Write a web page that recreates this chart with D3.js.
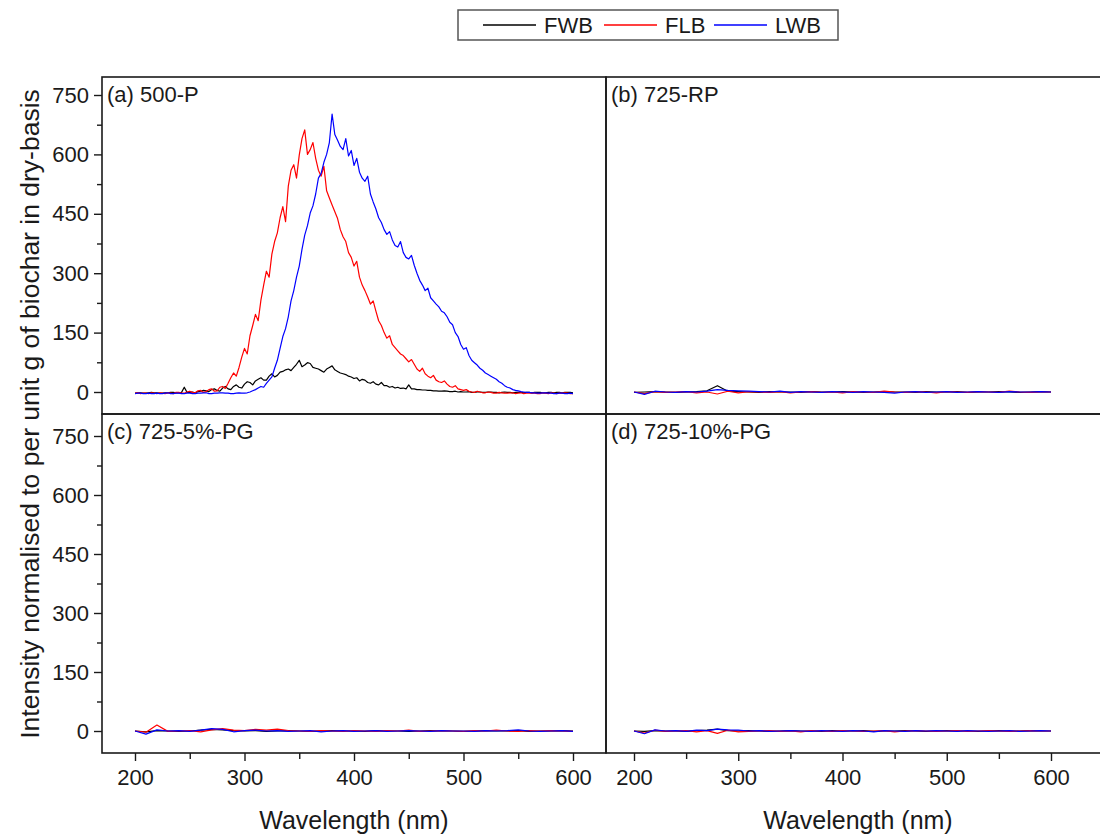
<!DOCTYPE html>
<html>
<head>
<meta charset="utf-8">
<script src="https://cdn.jsdelivr.net/npm/d3@7"></script>
<style>
  body { margin: 0; background: #fff; }
  svg { font-family: "Liberation Sans", Arial, sans-serif; }
</style>
</head>
<body>
<div id="playground"></div>
<script>
// wavelength grids (nm)
var wlFine = [200,202.5,205,207.5,210,212.5,215,217.5,220,222.5,225,227.5,230,232.5,235,237.5,240,242.5,245,247.5,
              250,252.5,255,257.5,260,262.5,265,267.5,270,272.5,275,277.5,280,282.5,285,287.5,290,292.5,295,297.5,
              300,302.5,305,307.5,310,312.5,315,317.5,320,322.5,325,327.5,330,332.5,335,337.5,340,342.5,345,347.5,
              350,352.5,355,357.5,360,362.5,365,367.5,370,372.5,375,377.5,380,382.5,385,387.5,390,392.5,395,397.5,
              400,402.5,405,407.5,410,412.5,415,417.5,420,422.5,425,427.5,430,432.5,435,437.5,440,442.5,445,447.5,
              450,452.5,455,457.5,460,462.5,465,467.5,470,472.5,475,477.5,480,482.5,485,487.5,490,492.5,495,497.5,
              500,502.5,505,507.5,510,512.5,515,517.5,520,522.5,525,527.5,530,532.5,535,537.5,540,542.5,545,547.5,
              550,552.5,555,557.5,560,562.5,565,567.5,570,572.5,575,577.5,580,582.5,585,587.5,590,592.5,595,597.5,
              600];
var wlCoarse = [200,210,220,230,240,250,260,270,280,290,
                300,310,320,330,340,350,360,370,380,390,
                400,410,420,430,440,450,460,470,480,490,
                500,510,520,530,540,550,560,570,580,590,600];

var seriesNames = ['FWB', 'FLB', 'LWB'];
var seriesColors = ['#000000', '#ff0000', '#0000ff'];
var yTicks = [0, 150, 300, 450, 600, 750];
var xTicks = [200, 300, 400, 500, 600];

// (a) 500-P, 2.5 nm steps
var fwbA = [-3,-2,-2,-3,-3,-2,-1,-2,-2,-3,-3,-2,-2,-1,-1,-2,-2,-1,12,-1,
            -1,0,-2,1,2,4,3,1,6,8,4,2,10,14,8,6,14,18,12,10,
            20,26,24,18,28,32,36,30,30,40,46,38,42,50,52,56,58,54,62,70,
            80,64,68,74,72,62,60,58,54,50,58,62,66,56,52,48,46,44,40,38,
            34,36,28,32,30,24,22,26,20,18,24,16,16,12,14,10,12,9,10,8,
            18,8,8,6,6,5,5,4,4,3,3,2,2,3,2,1,1,2,0,1,
            0,0,1,-1,-1,0,0,-1,-1,0,0,-1,-1,-2,-1,0,-1,-1,-2,-1,
            -1,-1,-2,-1,-1,-2,-1,-1,-1,-2,-2,-1,-1,-2,-1,-1,-2,-1,-1,-1,
            -2];
var flbA = [-3,-2,-4,-3,-3,-4,-2,-3,-4,-2,-3,-4,-2,-3,-4,-1,-1,-3,-3,0,
            2,-1,-2,3,4,-1,1,6,8,2,3,12,14,9,22,36,48,40,62,88,
            110,96,142,168,196,180,232,270,305,290,348,380,402,440,468,430,520,560,574,540,
            598,640,662,600,612,630,590,560,545,570,508,490,472,455,438,410,392,380,352,340,
            318,330,290,270,256,240,222,230,204,180,168,150,136,142,120,112,104,96,92,84,
            76,82,70,58,52,60,46,40,36,42,30,26,24,28,20,14,12,16,8,6,
            4,6,2,0,-1,2,0,-2,-2,0,-1,-3,-3,-1,-2,-3,-3,-2,-2,-4,
            -3,-2,-4,-3,-2,-3,-3,-4,-4,-2,-3,-4,-2,-3,-4,-3,-3,-2,-3,-4,
            -4];
var lwbA = [-4,-3,-3,-4,-4,-3,-4,-4,-3,-4,-4,-3,-2,-4,-4,-3,-3,-4,-4,-3,
            -3,-4,-4,-3,-3,-2,-2,-4,-4,-3,-3,-2,-2,-3,-3,-4,-4,-3,-2,-3,
            -3,-2,0,3,6,10,14,12,22,30,38,60,80,110,140,160,190,230,256,290,
            318,360,396,420,452,470,500,540,552,580,600,630,702,650,636,620,612,640,596,610,
            572,590,555,540,532,545,500,480,462,440,428,410,398,405,384,370,366,380,352,340,
            336,345,320,300,282,270,256,262,238,230,222,215,204,200,190,176,170,150,140,120,
            108,112,92,80,74,68,60,55,48,44,40,36,32,26,22,16,12,10,6,4,
            3,1,0,-1,-1,-2,-2,-3,-3,-2,-2,-3,-3,-4,-4,-3,-3,-4,-4,-3,
            -4];

// (b) 725-RP, 10 nm steps
var fwbB = [-1,0,1,0,-1,0,1,3,16,2, 1,0,-1,1,0,0,-1,1,0,0, 1,0,-1,0,1,0,0,-1,1,0, 0,1,-1,0,0,1,0,-1,0,1, 0];
var flbB = [0,-4,1,-1,0,1,-2,0,-5,2, -2,1,0,-1,1,-2,0,1,-1,0, -2,1,0,-1,2,0,-1,1,0,-2, 1,0,-1,1,0,-1,2,0,-1,0, 0];
var lwbB = [0,-6,2,0,-1,1,0,2,6,4, 3,2,1,0,2,-1,1,0,-1,1, 0,-1,1,0,-1,-3,0,1,-1,0, 1,-1,0,1,0,-1,1,0,0,1, 0];

// (c) 725-5%-PG
var fwbC = [0,-2,1,0,-1,0,2,4,3,1, 0,1,-1,0,1,0,-1,0,1,0, 0,-1,1,0,0,-1,0,1,0,0, -1,0,1,0,0,1,-1,0,0,1, 0];
var flbC = [0,-3,15,-1,0,1,-2,3,6,2, 1,4,2,5,1,0,-1,1,0,-1, 1,0,-1,1,0,2,-1,0,1,0, -1,1,0,2,0,-1,1,0,1,0, -1];
var lwbC = [0,-8,3,0,1,-1,2,6,4,-2, 1,2,0,1,-1,0,1,-2,0,1, -1,0,1,-1,0,1,0,-1,1,0, 0,-1,1,0,1,3,0,-1,0,1, -1];

// (d) 725-10%-PG
var fwbD = [0,-1,1,0,0,-1,1,2,5,1, 0,1,0,-1,0,1,0,0,-1,1, 0,0,1,-1,0,0,1,0,-1,0, 1,0,0,-1,0,1,0,0,1,0, 0];
var flbD = [0,-5,2,-1,0,1,-2,1,-6,2, -2,-1,0,1,-1,0,-2,1,0,-1, 1,0,-1,0,1,-2,0,1,0,-1, 0,1,-1,0,1,0,-1,0,1,0, 0];
var lwbD = [0,-7,3,0,1,-1,2,1,5,3, 2,0,1,-1,0,1,0,-1,1,0, -1,1,0,-2,1,0,-1,1,0,1, 0,-1,1,0,-1,0,1,-1,0,1, 0];

var panels = [
  { label: '(a) 500-P',     col: 0, row: 0, wl: wlFine,   data: [fwbA, flbA, lwbA] },
  { label: '(b) 725-RP',    col: 1, row: 0, wl: wlCoarse, data: [fwbB, flbB, lwbB] },
  { label: '(c) 725-5%-PG', col: 0, row: 1, wl: wlCoarse, data: [fwbC, flbC, lwbC] },
  { label: '(d) 725-10%-PG',col: 1, row: 1, wl: wlCoarse, data: [fwbD, flbD, lwbD] }
];

var svg = d3.select('#playground').append('svg')
  .attr('width', 1100).attr('height', 836);

// panel boxes and scales
var cols = [
  { x0: 102, x1: 606, x: d3.scaleLinear().domain([200, 600]).range([135, 573]) },
  { x0: 606, x1: 1112, x: d3.scaleLinear().domain([200, 600]).range([634, 1051]) }
];
var rows = [
  { y0: 77, y1: 414, y: d3.scaleLinear().domain([0, 750]).range([392, 95]) },
  { y0: 414, y1: 753, y: d3.scaleLinear().domain([0, 750]).range([731, 436]) }
];

function styleAxis(sel) {
  sel.select('.domain').remove();
  sel.selectAll('text').attr('font-size', 22).attr('fill', '#1a1a1a')
    .attr('font-family', '"Liberation Sans", Arial, sans-serif');
  sel.selectAll('line').attr('stroke', '#1a1a1a').attr('stroke-width', 1.4);
}

panels.forEach(function(p) {
  var c = cols[p.col], r = rows[p.row];
  var g = svg.append('g');

  g.append('rect')
    .attr('x', c.x0).attr('y', r.y0)
    .attr('width', c.x1 - c.x0).attr('height', r.y1 - r.y0)
    .attr('fill', 'none').attr('stroke', '#1a1a1a').attr('stroke-width', 1.6);

  p.data.forEach(function(vals, k) {
    var line = d3.line()
      .x(function(d, i) { return c.x(p.wl[i]); })
      .y(function(d) { return r.y(d); });
    g.append('path')
      .datum(vals)
      .attr('d', line)
      .attr('fill', 'none')
      .attr('stroke', seriesColors[k])
      .attr('stroke-width', 1.2)
      .attr('stroke-linejoin', 'round');
  });

  g.append('text')
    .attr('x', c.x0 + 5).attr('y', r.y0 + 25)
    .attr('font-size', 22).attr('fill', '#1a1a1a')
    .text(p.label);

  // y axis only on the left column
  if (p.col === 0) {
    var ya = d3.axisLeft(r.y).tickValues(yTicks).tickSize(8).tickPadding(5);
    g.append('g').attr('transform', 'translate(' + c.x0 + ',0)').call(ya).call(styleAxis);
    var ym = d3.axisLeft(r.y).tickValues([75, 225, 375, 525, 675]).tickSize(5).tickFormat('');
    g.append('g').attr('transform', 'translate(' + c.x0 + ',0)').call(ym).call(styleAxis);
  }

  // x axis only on the bottom row
  if (p.row === 1) {
    var xa = d3.axisBottom(c.x).tickValues(xTicks).tickSize(8).tickPadding(8);
    g.append('g').attr('transform', 'translate(0,' + r.y1 + ')').call(xa).call(styleAxis);
    var xm = d3.axisBottom(c.x).tickValues([250, 350, 450, 550]).tickSize(6).tickFormat('');
    g.append('g').attr('transform', 'translate(0,' + r.y1 + ')').call(xm).call(styleAxis);

    g.append('text')
      .attr('x', p.col === 0 ? 354 : 858).attr('y', 829)
      .attr('text-anchor', 'middle').attr('font-size', 25).attr('fill', '#1a1a1a')
      .text('Wavelength (nm)');
  }
});

// y axis title
svg.append('text')
  .attr('transform', 'translate(39,414) rotate(-90)')
  .attr('text-anchor', 'middle').attr('font-size', 26.5).attr('fill', '#1a1a1a')
  .text('Intensity normalised to per unit g of biochar in dry-basis');

// legend
var leg = svg.append('g');
leg.append('rect')
  .attr('x', 458).attr('y', 10).attr('width', 380).attr('height', 30)
  .attr('fill', '#fff').attr('stroke', '#555').attr('stroke-width', 1.5);
var legX = [483, 604, 714];
seriesNames.forEach(function(n, k) {
  leg.append('line')
    .attr('x1', legX[k]).attr('x2', legX[k] + 53)
    .attr('y1', 25).attr('y2', 25)
    .attr('stroke', seriesColors[k]).attr('stroke-width', 1.4);
  leg.append('text')
    .attr('x', legX[k] + 61).attr('y', 33)
    .attr('font-size', 22).attr('fill', '#1a1a1a')
    .text(n);
});
</script>
</body>
</html>
